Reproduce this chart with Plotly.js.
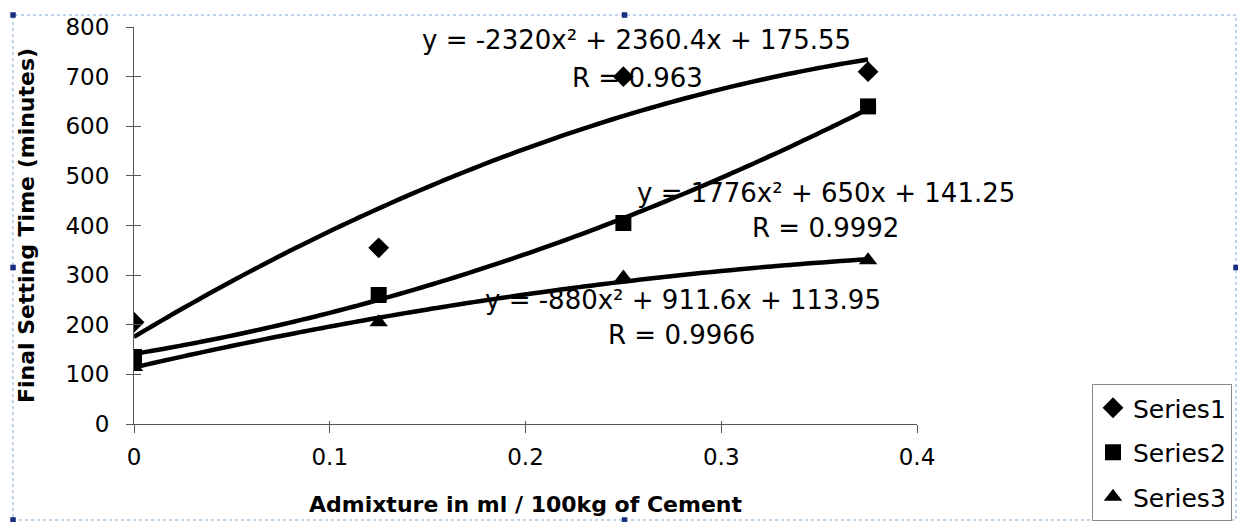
<!DOCTYPE html>
<html>
<head>
<meta charset="utf-8">
<script src="https://cdn.plot.ly/plotly-3.0.1.min.js"></script>
<style>
html,body{margin:0;padding:0;background:#fff;}
#chart{width:1238px;height:522px;}
</style>
</head>
<body>
<div id="chart"></div>
<script>
// ---- data ----
const admixture = [0, 0.125, 0.25, 0.375];
const series1 = [205, 355, 700, 710];
const series2 = [135, 260, 405, 640];
const series3 = [115, 205, 295, 330];
const seriesNames = ['Series1', 'Series2', 'Series3'];
const seriesSymbols = ['diamond', 'square', 'triangle-up'];
// polynomial trendline coefficients shown on the chart: [a, b, c] for y = a x^2 + b x + c
const trend1 = [-2320, 2360.4, 175.55];
const trend2 = [1776, 650, 141.25];
const trend3 = [-880, 911.6, 113.95];
const rValues = ['0.963', '0.9992', '0.9966'];
const xTickVals = [0, 0.1, 0.2, 0.3, 0.4];
const xTickText = ['0', '0.1', '0.2', '0.3', '0.4'];
const yTickVals = [0, 100, 200, 300, 400, 500, 600, 700, 800];
const xTitle = 'Admixture in ml / 100kg of Cement';
const yTitle = 'Final Setting Time (minutes)';

const FONT = 'DejaVu Sans';
const seriesValues = [series1, series2, series3];
const trends = [trend1, trend2, trend3];

// trendline curves evaluated over the data range
function trendCurve(coef) {
  const xs = [], ys = [];
  const x0 = admixture[0], x1 = admixture[admixture.length - 1];
  const n = 80;
  for (let i = 0; i <= n; i++) {
    const x = x0 + (x1 - x0) * i / n;
    xs.push(x);
    ys.push(coef[0] * x * x + coef[1] * x + coef[2]);
  }
  return {xs, ys};
}

const traces = [];
trends.forEach((c, i) => {
  const t = trendCurve(c);
  traces.push({
    type: 'scatter', mode: 'lines', x: t.xs, y: t.ys,
    line: {color: '#000', width: 4.5, shape: 'spline'},
    showlegend: false, hoverinfo: 'skip', legendgroup: 'trend'
  });
});
seriesValues.forEach((vals, i) => {
  traces.push({
    type: 'scatter', mode: 'markers', name: seriesNames[i],
    x: admixture, y: vals, legendgroup: 'g' + i,
    marker: {symbol: seriesSymbols[i], color: '#000', size: 16}
  });
});
// overlay axes to give the ticks their inner half (ticks cross the axis)
traces.push({type: 'scatter', x: [], y: [], xaxis: 'x2', yaxis: 'y2', showlegend: false, hoverinfo: 'skip', legendgroup: 'trend'});

function eqText(c) {
  return 'y = ' + String(c[0]) + 'x² + ' + String(c[1]) + 'x + ' + String(c[2]);
}
// label anchor positions (data coords)
const eqPos = [[0.2569, 774], [0.3534, 466], [0.2804, 250]];
const rPos = [[0.2574, 697], [0.3534, 395], [0.2799, 179]];

const annotations = [];
trends.forEach((c, i) => {
  annotations.push({x: eqPos[i][0], y: eqPos[i][1], xref: 'x', yref: 'y', text: eqText(c),
    showarrow: false, font: {family: FONT, size: 26, color: '#000'}});
  annotations.push({x: rPos[i][0], y: rPos[i][1], xref: 'x', yref: 'y', text: 'R = ' + rValues[i],
    showarrow: false, font: {family: FONT, size: 26, color: '#000'}});
});

// dotted selection frame + handles (decoration around the chart object)
const fx0 = -0.1545, fx1 = 1.4074, fy0 = -0.2418, fy1 = 1.0302;
const shapes = [{
  type: 'rect', xref: 'paper', yref: 'paper', x0: fx0, x1: fx1, y0: fy0, y1: fy1,
  line: {color: '#7aa7d6', width: 1, dash: 'dot'}, fillcolor: 'rgba(0,0,0,0)', layer: 'below'
}];
const hx = 0.0035, hy = 0.007;
[[fx0, fy1], [(fx0 + fx1) / 2, fy1], [fx0, (fy0 + fy1) / 2], [fx1, (fy0 + fy1) / 2], [fx0, fy0], [(fx0 + fx1) / 2, fy0]].forEach(p => {
  shapes.push({type: 'rect', xref: 'paper', yref: 'paper', x0: p[0] - hx, x1: p[0] + hx, y0: p[1] - hy, y1: p[1] + hy,
    line: {width: 0}, fillcolor: '#1a2f80'});
});

const axisCommon = {
  showgrid: false, zeroline: false, showline: true, linecolor: '#555', linewidth: 1,
  ticks: 'outside', tickcolor: '#555', tickwidth: 1,
  tickfont: {family: FONT, size: 23, color: '#000'}
};

const layout = {
  width: 1238, height: 522,
  margin: {l: 134, r: 321, t: 27, b: 98, autoexpand: false},
  paper_bgcolor: '#fff', plot_bgcolor: '#fff',
  xaxis: Object.assign({}, axisCommon, {
    range: [0, 0.4], tickvals: xTickVals, ticktext: xTickText, ticklen: 8,
    ticklabelstandoff: 4,
    title: {text: xTitle, font: {family: FONT, size: 22, color: '#000', weight: 'bold'}, standoff: 28}
  }),
  yaxis: Object.assign({}, axisCommon, {
    range: [0, 800], tickvals: yTickVals, ticklen: 7,
    ticklabelstandoff: 12,
    title: {text: yTitle, font: {family: FONT, size: 22, color: '#000', weight: 'bold'}, standoff: 24}
  }),
  xaxis2: {overlaying: 'x', matches: 'x', anchor: 'y', side: 'bottom', range: [0, 0.4], tickvals: xTickVals,
    ticks: 'inside', ticklen: 3, tickcolor: '#555', showticklabels: false, showline: false, showgrid: false, zeroline: false},
  yaxis2: {overlaying: 'y', matches: 'y', anchor: 'x', side: 'left', range: [0, 800], tickvals: yTickVals,
    ticks: 'inside', ticklen: 7, tickcolor: '#555', showticklabels: false, showline: false, showgrid: false, zeroline: false},
  showlegend: true,
  legend: {
    x: 1.2235, y: 0.1007, xanchor: 'left', yanchor: 'top',
    bordercolor: '#888', borderwidth: 1, bgcolor: '#fff',
    font: {family: FONT, size: 25, color: '#000'},
    tracegroupgap: 9, traceorder: 'grouped'
  },
  annotations: annotations,
  shapes: shapes
};

Plotly.newPlot('chart', traces, layout, {displayModeBar: false, staticPlot: true});
</script>
</body>
</html>
